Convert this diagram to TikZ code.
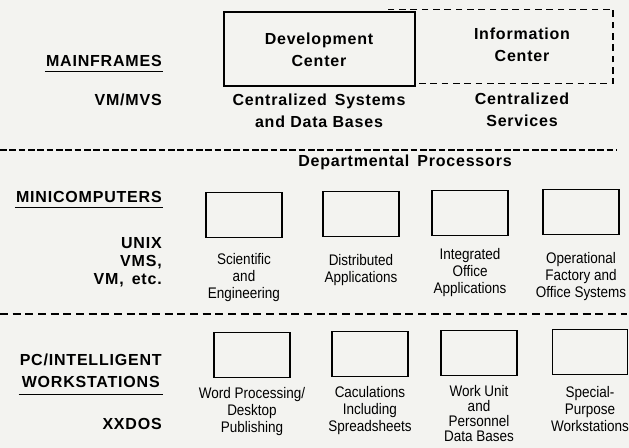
\documentclass[tikz,border=0pt]{standalone}
\usepackage{fontspec}
\usetikzlibrary{positioning}
\setmainfont{Liberation Sans}
\newfontfamily\narrowfont[FakeStretch=0.88]{Liberation Sans}
\newfontfamily\tierfont[LetterSpace=5]{Liberation Sans Bold}
\definecolor{PaperGray}{RGB}{243,243,240}

\begin{document}
\begin{tikzpicture}[x=0.75pt,y=0.75pt,yscale=-1,xscale=1,
	tier/.style={font=\tierfont\fontsize{12}{16.5}\selectfont, inner sep=0.75pt, align=center},
	os/.style={font=\tierfont\fontsize{12}{13.5}\selectfont, inner sep=0.75pt, align=right, anchor=east},
	role/.style={font=\narrowfont\fontsize{11.5}{12.75}\selectfont, inner sep=0.75pt, align=center},
	unit/.style={draw, line width=1.1pt, minimum width=57pt, minimum height=34pt, inner sep=0pt},
	divider/.style={line width=1.5pt, dash pattern=on 6pt off 3.5pt}]

		% Paper and page size
		\fill[PaperGray] (0,0) rectangle (629,448);
		\useasboundingbox (0,0) rectangle (629,448);

		% Mainframes: dashed information center behind the development center
		\node[draw, line width=0.9pt, dash pattern=on 5pt off 3.5pt, minimum width=171pt, minimum height=56pt] (infobox) at (499,46.5) {};
		\node[draw, line width=1.1pt, fill=PaperGray, minimum width=143pt, minimum height=55.5pt] (devbox) at (319.5,49) {};
		\node[tier] (devtext) at (319,50) {Development\\Center};
		\node[tier] (infotext) at (522,45) {Information\\Center};
		\node[tier] (centsys) at (319,111) {Centralized\enspace Systems\\and Data Bases};
		\node[tier] (centsvc) at (522,110) {Centralized\\Services};

		% Mainframe labels on the left
		\node[tier, anchor=east] (mainframes) at (163,61) {MAINFRAMES};
		\draw[line width=0.9pt] ([yshift=2.5pt]mainframes.south west) -- ([yshift=2.5pt]mainframes.south east);
		\node[tier, anchor=east] (vmmvs) at (163,100) {VM/MVS};

		% First divider
		\coordinate (div1w) at (0,150);
		\coordinate (div1e) at (617,150);
		\draw[divider, line width=1.2pt, dash pattern=on 5pt off 2pt] (div1w) -- (div1e);
		\node[tier] (deptproc) at (405,162) {Departmental\enspace Processors};

		% Minicomputers
		\node[tier, anchor=east] (minis) at (163,197) {MINICOMPUTERS};
		\draw[line width=0.9pt] ([yshift=2.5pt]minis.south west) -- ([yshift=2.5pt]minis.south east);
		\node[os] (minios) at (163,262) {UNIX\\VMS,\\VM,\enspace etc.};

		\node[unit] (sci) at (244,215) {};
		\node[unit] (dist) at (361,214) {};
		\node[unit] (integ) at (470,213) {};
		\node[unit] (oper) at (581,212) {};
		\node[role, below=10pt of sci] (scitext) {Scientific\\and\\Engineering};
		\node[role, below=12pt of dist] (disttext) {Distributed\\Applications};
		\node[role, below=8pt of integ] (integtext) {Integrated\\Office\\Applications};
		\node[role, below=12pt of oper] (opertext) {Operational\\Factory and\\Office Systems};

		% Second divider
		\coordinate (div2w) at (0,314);
		\coordinate (div2e) at (627,314);
		\draw[divider] (div2w) -- (div2e);

		% PC / intelligent workstations
		\node[tier, anchor=east] (pcws) at (163,371) {PC/INTELLIGENT\\WORKSTATIONS};
		\draw[line width=0.9pt] ([yshift=4pt]pcws.south west) -- ([yshift=4pt]pcws.south east);
		\node[tier, anchor=east] (xxdos) at (163,424) {XXDOS};

		\node[unit] (wordp) at (252,355) {};
		\node[unit] (calc) at (370,354) {};
		\node[unit] (workunit) at (479,353) {};
		\node[unit, minimum width=56pt] (special) at (590,352) {};
		\node[role, below=6pt of wordp] (wordtext) {Word Processing/\\Desktop\\Publishing};
		\node[role, below=6pt of calc] (calctext) {Caculations\\Including\\Spreadsheets};
		\node[role, below=6pt of workunit, font=\narrowfont\fontsize{11.5}{11.25}\selectfont] (worktext) {Work Unit\\and\\Personnel\\Data Bases};
		\node[role, below=7pt of special] (spectext) {Special-\\Purpose\\Workstations};
	\end{tikzpicture}
\end{document}
